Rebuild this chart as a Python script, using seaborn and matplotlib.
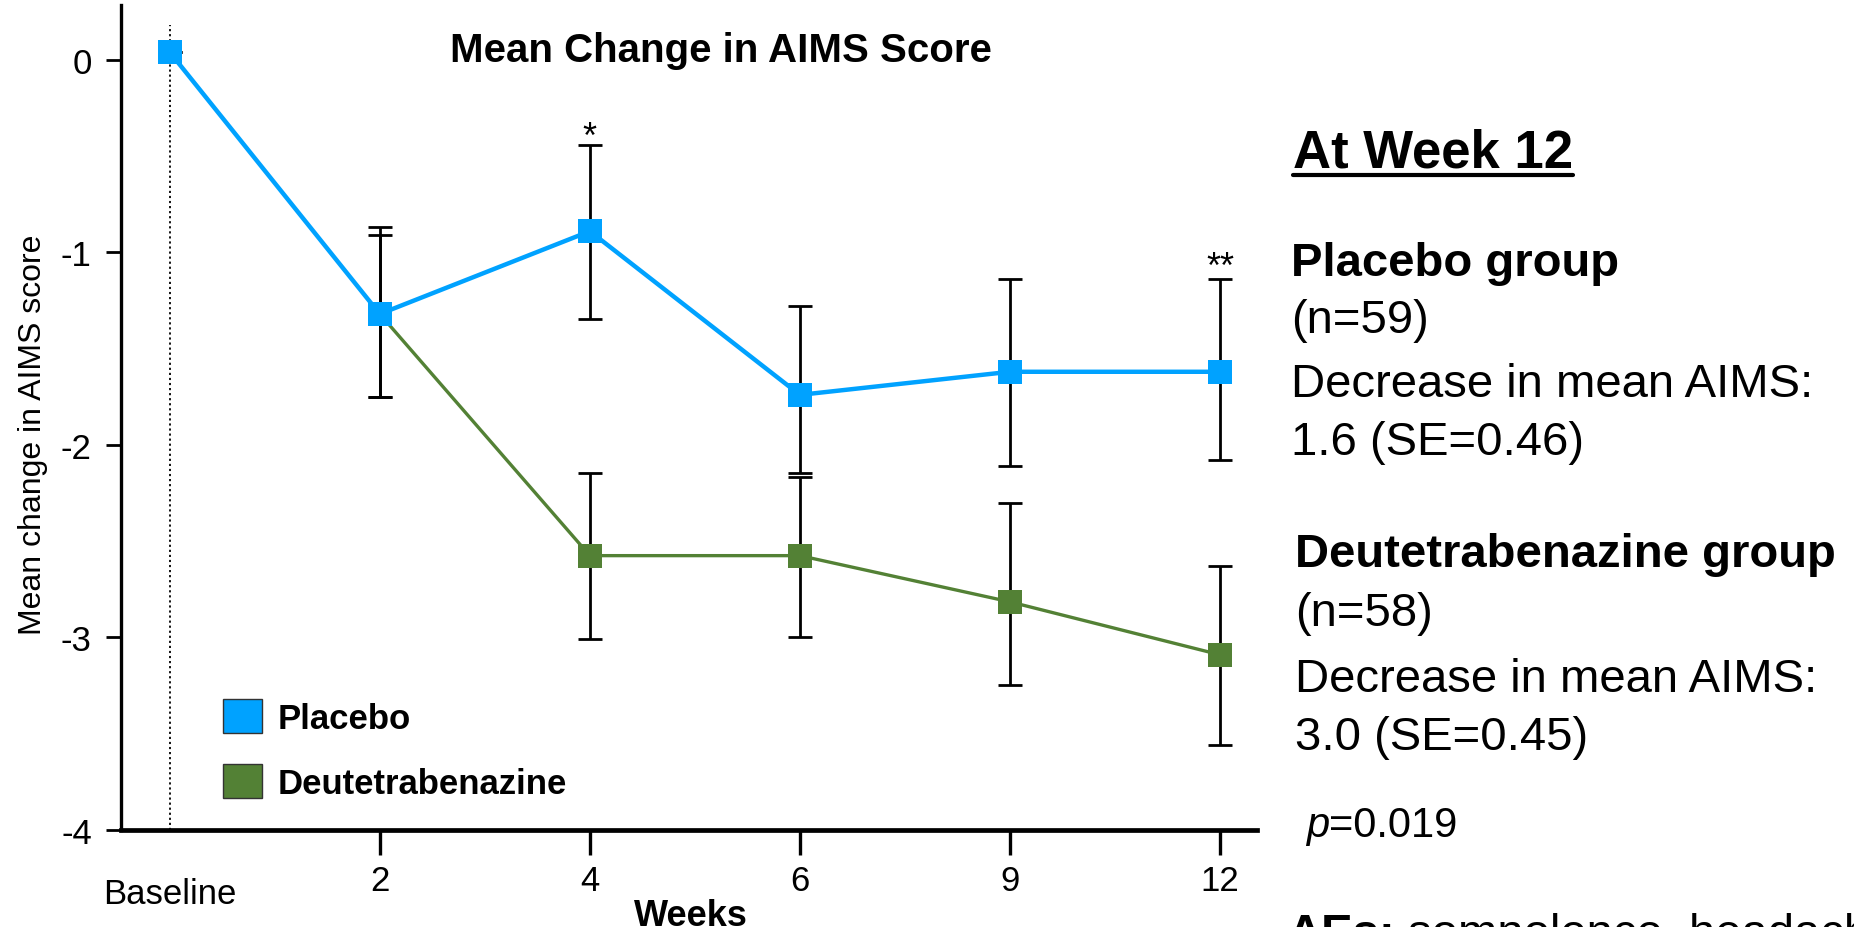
import matplotlib
matplotlib.use("Agg")
import matplotlib.pyplot as plt
from matplotlib.patches import Patch
from matplotlib.lines import Line2D
import seaborn as sns
import pandas as pd
import numpy as np

# ---------------- data ----------------
week_labels = ["Baseline", "2", "4", "6", "9", "12"]
week_pos = [0, 1, 2, 3, 4, 5]

placebo_pos = [0, 1, 2, 3, 4, 5]
placebo_mean = [0.04, -1.32, -0.89, -1.74, -1.62, -1.62]
placebo_hi = [0.04, -0.87, -0.44, -1.28, -1.14, -1.14]
placebo_lo = [0.04, -1.75, -1.345, -2.145, -2.11, -2.08]

deut_pos = [1, 2, 3, 4, 5]
deut_mean = [-1.32, -2.575, -2.575, -2.815, -3.09]
deut_hi = [-0.91, -2.145, -2.165, -2.30, -2.63]
deut_lo = [-1.75, -3.01, -3.0, -3.245, -3.56]

series_names = ["Placebo", "Deutetrabenazine"]
colors = {"Placebo": "#00A2FF", "Deutetrabenazine": "#538135"}

sig_pos = [2, 5]
sig_text = ["*", "**"]
sig_y = [-0.45, -1.125]

panel_title = "At Week 12"
panel_lines = [
    ("Placebo group", "bold", 1291, 276),
    ("(n=59)", "normal", 1291, 333),
    ("Decrease in mean AIMS:", "normal", 1291, 397),
    ("1.6 (SE=0.46)", "normal", 1291, 455),
    ("Deutetrabenazine group", "bold", 1295, 567),
    ("(n=58)", "normal", 1295, 626),
    ("Decrease in mean AIMS:", "normal", 1295, 692),
    ("3.0 (SE=0.45)", "normal", 1295, 750),
]

# ---------------- style ----------------
sns.set_style("white")
plt.rcParams["font.family"] = ["Liberation Sans", "DejaVu Sans"]
plt.rcParams["text.color"] = "black"
plt.rcParams["axes.labelcolor"] = "black"
plt.rcParams["xtick.color"] = "black"
plt.rcParams["ytick.color"] = "black"
plt.rcParams["axes.edgecolor"] = "black"

W, H = 1854, 928
fig = plt.figure(figsize=(W / 100, H / 100), dpi=100)


def fx(x):
    return x / W


def fy(y):
    return 1 - y / H


ax = fig.add_axes([fx(121), fy(831), (1257 - 121) / W, (831 - 6) / H])

df_p = pd.DataFrame({"week": placebo_pos, "change": placebo_mean, "group": "Placebo"})
df_d = pd.DataFrame({"week": deut_pos, "change": deut_mean, "group": "Deutetrabenazine"})

# error bars (under the markers)
for pos, m, lo, hi in [(deut_pos, deut_mean, deut_lo, deut_hi),
                       (placebo_pos, placebo_mean, placebo_lo, placebo_hi)]:
    m = np.array(m); lo = np.array(lo); hi = np.array(hi)
    ax.errorbar(pos, m, yerr=[m - lo, hi - m], fmt="none", ecolor="black",
                elinewidth=2.0, capsize=8.5, capthick=2.0, zorder=2)

sns.lineplot(data=df_d, x="week", y="change", color=colors["Deutetrabenazine"],
             marker="s", markersize=17, markeredgewidth=0, linewidth=2.4,
             errorbar=None, ax=ax, zorder=3, legend=False)
sns.lineplot(data=df_p, x="week", y="change", color=colors["Placebo"],
             marker="s", markersize=17, markeredgewidth=0, linewidth=3.2,
             errorbar=None, ax=ax, zorder=4, legend=False)

# baseline dotted reference line
ax.vlines(0, -4, 0.18, colors="black", linestyles=(0, (1.2, 1.6)), linewidth=1.3, zorder=1)

for p, t, y in zip(sig_pos, sig_text, sig_y):
    ax.text(p, y, t, ha="center", va="baseline", fontsize=26, color="black")

ax.set_xlim(-0.232, 5.176)
ax.set_ylim(-4, 0.285)
ax.set_xticks(week_pos)
ax.set_xticklabels(week_labels)
ax.set_yticks([0, -1, -2, -3, -4])
ax.set_yticklabels(["0", "-1", "-2", "-3", "-4"])

for s in ["top", "right"]:
    ax.spines[s].set_visible(False)
ax.spines["left"].set_linewidth(2.4)
ax.spines["bottom"].set_linewidth(3.4)

ax.tick_params(axis="x", direction="out", length=18, width=2.4, pad=6.5,
               labelsize=25, colors="black", bottom=True)
ax.tick_params(axis="y", direction="out", length=11, width=2.0, pad=10,
               labelsize=25, colors="black", left=True)
ax.xaxis.get_major_ticks()[0].tick1line.set_visible(False)
ax.xaxis.get_major_ticks()[0].set_pad(16)

ax.set_xlabel("Weeks", fontsize=26, fontweight="bold")
ax.xaxis.set_label_coords(0.502, -0.082)
ax.set_ylabel("Mean change in AIMS score", fontsize=23)
ax.yaxis.label.set_verticalalignment("center")
ax.yaxis.set_label_coords(-0.0775, 0.48)

fig.text(fx(721), fy(62), "Mean Change in AIMS Score", ha="center", va="baseline",
         fontsize=29, fontweight="bold")

handles = [Patch(facecolor=colors[n], edgecolor="#333333", linewidth=1.0, label=n)
           for n in series_names]
leg = ax.legend(handles=handles, loc="upper left",
                bbox_to_anchor=((223 - 121) / 1136, (831 - 700) / 825),
                frameon=False, handlelength=1.12, handleheight=1.12,
                handletextpad=0.45, labelspacing=0.85, borderaxespad=0,
                borderpad=0, prop={"weight": "bold", "size": 25})
for t in leg.get_texts():
    t.set_color("black")

# ---------------- right text panel ----------------
t_title = fig.text(fx(1293), fy(167), panel_title, ha="left", va="baseline",
                   fontsize=38, fontweight="bold")
for txt, wt, x, y in panel_lines:
    fig.text(fx(x), fy(y), txt, ha="left", va="baseline", fontsize=34, fontweight=wt)

fig.canvas.draw()
r = fig.canvas.get_renderer()
bb = t_title.get_window_extent(r)
fig.add_artist(Line2D([bb.x0 / W, bb.x1 / W], [fy(176), fy(176)], transform=fig.transFigure,
                      color="black", linewidth=3.0))

tp = fig.text(fx(1306), fy(837), "p", ha="left", va="baseline", fontsize=30, style="italic")
bb = tp.get_window_extent(r)
fig.text(bb.x1 / W, fy(837), "=0.019", ha="left", va="baseline", fontsize=30)

ta = fig.text(fx(1288), fy(947), "AEs:", ha="left", va="baseline", fontsize=34, fontweight="bold")
bb = ta.get_window_extent(r)
fig.text(bb.x1 / W + 12 / W, fy(947), "somnolence, headache", ha="left", va="baseline", fontsize=34)

fig.savefig("out.png", dpi=100)
